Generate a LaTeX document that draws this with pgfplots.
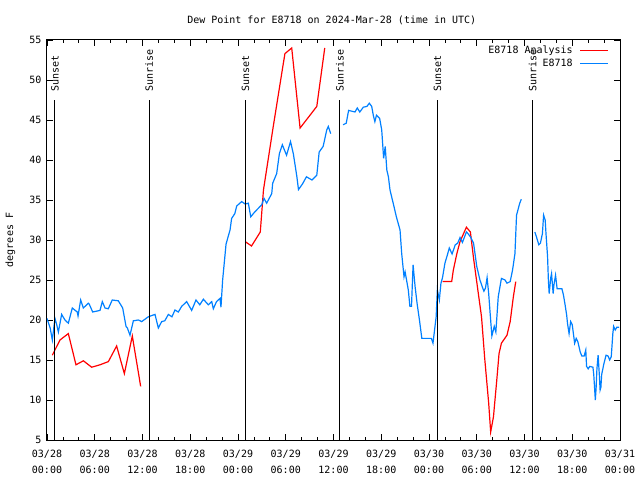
\documentclass[border=0pt]{standalone}
\usepackage{fontspec}
\setmainfont{DejaVu Sans Mono}
\usepackage{pgfplots}
\pgfplotsset{compat=1.18}
\definecolor{dpblue}{RGB}{0,128,255}
\definecolor{dpred}{RGB}{255,0,0}
\begin{document}
\fontsize{10bp}{12bp}\selectfont
\begin{tikzpicture}
\useasboundingbox (-47bp,-40bp) rectangle (593bp,440bp);
\begin{axis}[
  at={(0,0)}, anchor=south west,
  scale only axis, width=573bp, height=400bp,
  xmin=0, xmax=72, ymin=5, ymax=55,
  xtick={0,6,...,72}, minor x tick num=2,
  ytick={5,10,...,55},
  xticklabels={{03/28\\00:00},{03/28\\06:00},{03/28\\12:00},{03/28\\18:00},{03/29\\00:00},{03/29\\06:00},{03/29\\12:00},{03/29\\18:00},{03/30\\00:00},{03/30\\06:00},{03/30\\12:00},{03/30\\18:00},{03/31\\00:00}},
  xticklabel style={align=center, anchor=north, yshift=-6.5bp, font=\fontsize{10bp}{16.5bp}\selectfont},
  yticklabel style={xshift=-2bp},
  tick align=inside, major tick length=6bp, minor tick length=3bp,
  tick style={black, line width=0.8bp},
  axis line style={line width=1bp},
  /pgf/number format/assume math mode=true,
  title={Dew Point for E8718 on 2024-Mar-28 (time in UTC)},
  title style={at={(axis description cs:0.497,1)}, anchor=center, yshift=14bp},
  ylabel={degrees F},
  ylabel style={at={(axis description cs:-0.064,0.5)}, anchor=center},
  unbounded coords=jump,
  legend plot pos=right,
  legend cell align=right,
  legend image code/.code={\draw[#1] (0bp,0bp) -- (28bp,0bp);},
  legend style={draw=none, fill=none, at={(rel axis cs:0.981,0.99)}, anchor=north east, inner sep=0pt, row sep=0bp, column sep=5bp, font=\fontsize{10bp}{12bp}\selectfont},
]
\addplot[dpred, line width=1.2bp] coordinates {
(0.67,15.6) (1.63,17.5) (2.68,18.3) (3.64,14.4) (4.57,14.9) (5.61,14.1) (6.66,14.4) (7.71,14.8) (8.75,16.75) (9.72,13.3) (10.72,18.0) (11.77,11.7)
(18,nan)
(24.9,29.8) (25.7,29.25) (26.8,31.0) (27.2,36.25) (28.4,44.0) (29.7,52.1) (29.9,53.3) (30.75,54.0) (31.8,44.0) (33.05,45.6) (33.9,46.7) (34.9,54.0)
(42,nan)
(49.7,24.8) (50.85,24.8) (51.06,26.25) (51.5,28.3) (51.9,29.8) (52.7,31.6) (53.2,31.0) (53.6,27.7) (54.2,23.3) (54.6,20.4) (55.0,15.2) (55.5,9.6) (55.75,6.0) (56.1,7.9) (56.5,12.3) (56.8,15.8) (57.1,17.1) (57.8,18.1) (58.2,19.8) (58.6,22.9) (58.9,24.8)
};
\addlegendentry{E8718 Analysis}
\addplot[dpblue, line width=1.2bp] coordinates {
(0,20.2) (0.4,19.0) (0.67,17.5) (1.0,20.2) (1.2,19.5) (1.43,18.5) (1.84,20.7) (2.26,20.0) (2.68,19.6) (3.18,21.5) (3.8,21.0) (3.9,20.5) (4.23,22.5) (4.57,21.5) (5.19,22.1) (5.3,22.0) (5.74,21.0) (6.66,21.2) (6.95,22.3) (7.29,21.5) (7.7,21.4) (8.2,22.5) (8.96,22.4) (9.51,21.5) (9.93,19.2) (10.1,19.0) (10.43,18.1) (10.85,19.9) (11.48,20.0) (11.9,19.8) (12.73,20.4) (13.57,20.7) (13.99,19.0) (14.41,19.8) (14.8,19.9) (15.25,20.7) (15.7,20.4) (16.08,21.25) (16.5,21.0) (16.92,21.7) (17.55,22.3) (18.18,21.2) (18.72,22.5) (19.2,21.9) (19.65,22.6) (20.27,21.9) (20.7,22.3) (20.9,21.4) (21.3,22.3) (21.74,22.7) (21.86,21.6) (22.07,25.0) (22.5,29.5) (23.0,31.25) (23.2,32.7) (23.6,33.3) (23.84,34.25) (24.46,34.8) (24.9,34.5) (25.3,34.6) (25.6,32.9) (26.1,33.5) (26.98,34.4) (27.27,35.2) (27.6,34.6) (28.24,35.8) (28.36,37.1) (28.86,38.3) (29.2,40.8) (29.57,41.9) (30.1,40.6) (30.6,42.3) (30.95,40.8) (31.4,37.9) (31.6,36.3) (32.1,37.0) (32.6,37.9) (33.3,37.5) (33.9,38.1) (34.2,41.0) (34.7,41.7) (35.15,43.75) (35.35,44.2) (35.65,43.3)
(36.4,nan)
(37.2,44.4) (37.6,44.6) (37.9,46.2) (38.7,46.0) (38.99,46.5) (39.3,46.0) (39.75,46.6) (40.2,46.7) (40.5,47.1) (40.8,46.7) (41.0,45.6) (41.2,44.8) (41.4,45.6) (41.8,45.2) (42.06,43.75) (42.3,40.2) (42.5,41.7) (42.7,38.75) (42.9,37.9) (43.1,36.25) (43.5,34.6) (43.9,32.9) (44.36,31.25) (44.57,28.3) (44.86,25.4) (45.0,26.0) (45.4,23.75) (45.6,21.7) (45.8,21.7) (46.0,26.9) (46.25,24.2) (46.5,22.1) (46.8,20.0) (47.1,17.7) (48.3,17.7) (48.5,17.1) (48.9,20.4) (49.05,23.75) (49.3,22.5) (49.5,24.6) (49.7,25.3) (50.0,27.1) (50.3,28.1) (50.55,29.0) (50.9,28.25) (51.3,29.4) (51.6,29.6) (51.9,30.3) (52.2,29.7) (52.7,31.0) (52.9,30.8) (53.2,30.4) (53.6,29.6) (54.0,26.7) (54.4,25.0) (54.75,24.0) (54.9,23.6) (55.1,24.0) (55.3,25.3) (55.5,23.3) (55.7,20.6) (55.9,18.0) (56.2,19.2) (56.4,18.5) (56.7,22.9) (57.1,25.2) (57.55,25.0) (57.8,24.6) (58.2,24.8) (58.5,26.25) (58.8,28.3) (59.0,33.1) (59.4,34.6) (59.6,35.1)
(60.5,nan)
(61.3,31.0) (61.5,30.4) (61.8,29.4) (62.0,29.6) (62.25,30.8) (62.4,33.1) (62.6,32.5) (62.7,30.8) (62.9,27.9) (63.0,25.0) (63.1,23.3) (63.3,25.3) (63.4,25.8) (63.6,23.3) (63.7,24.4) (63.9,25.6) (64.1,23.9) (64.7,23.9) (64.9,23.1) (65.1,21.9) (65.3,20.6) (65.4,19.6) (65.6,18.3) (65.8,19.8) (66.0,19.4) (66.3,17.1) (66.5,17.7) (66.7,17.3) (67.0,16.0) (67.2,15.5) (67.5,15.5) (67.7,16.25) (67.8,14.2) (68.0,13.9) (68.2,14.2) (68.6,14.1) (68.7,13.2) (68.9,10.0) (69.0,11.5) (69.1,13.9) (69.25,15.6) (69.4,13.2) (69.5,11.25) (69.6,11.6) (69.7,13.2) (69.99,14.6) (70.25,15.6) (70.5,15.5) (70.7,15.0) (70.9,15.4) (71.1,18.3) (71.2,19.2) (71.4,18.75) (71.6,19.1) (71.9,19.1)
};
\addlegendentry{E8718}
\foreach \h/\t in {1.0/Sunset, 12.85/Sunrise, 24.95/Sunset, 36.8/Sunrise, 49.07/Sunset, 61.03/Sunrise} {
  \edef\temp{\noexpand\draw[black, line width=1bp] (axis cs:\h,5) -- (axis cs:\h,47.5);
  \noexpand\node[rotate=90, anchor=west, inner sep=0pt, xshift=1bp] at (axis cs:\h,48.4) {\t};}
  \temp
}
\end{axis}
\end{tikzpicture}
\end{document}
